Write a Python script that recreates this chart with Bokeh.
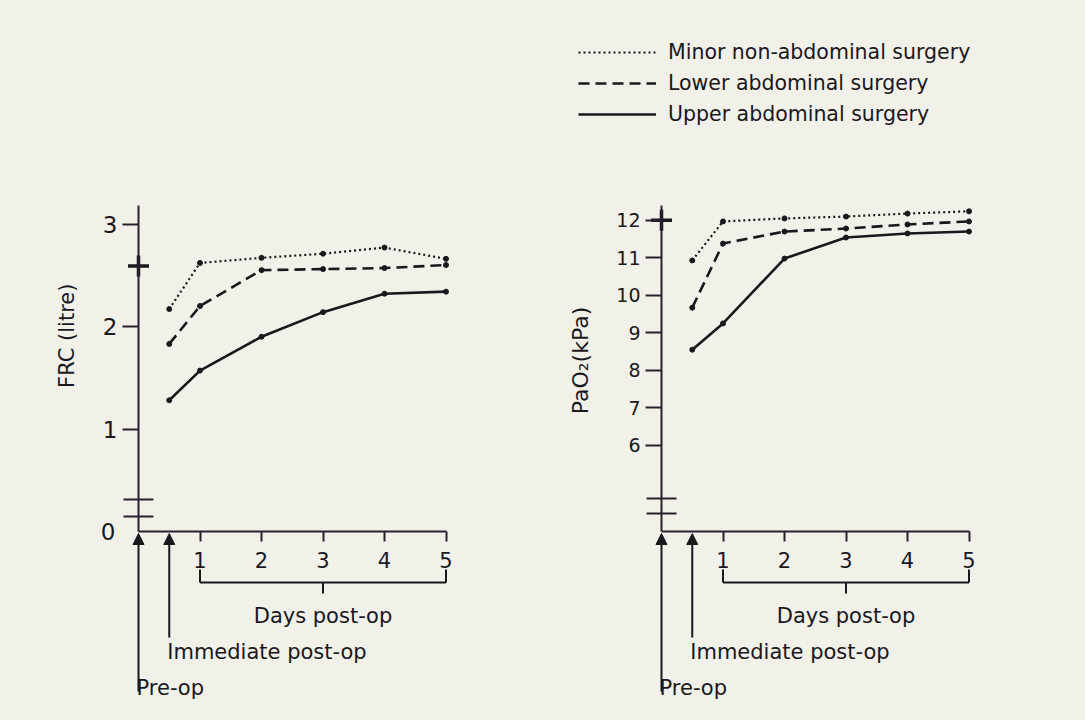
import math
from bokeh.plotting import figure
from bokeh.models import (LinearAxis, FixedTicker, Arrow, NormalHead, Label,
                          Legend, LegendItem, Range1d)
from bokeh.layouts import row
from bokeh.embed import file_html
from bokeh.resources import INLINE

# ---------------- data ----------------
# 0.5 = immediate post-op, 1..5 = days post-op ; pre-op = 0
stages = [0.5, 1, 2, 3, 4, 5]
series_names = ["Minor non-abdominal surgery",
                "Lower abdominal surgery",
                "Upper abdominal surgery"]

frc_minor = [2.17, 2.62, 2.67, 2.71, 2.77, 2.66]
frc_lower = [1.83, 2.20, 2.55, 2.56, 2.57, 2.60]
frc_upper = [1.28, 1.57, 1.90, 2.14, 2.32, 2.34]
frc_preop = 2.59

pao2_minor = [10.93, 11.97, 12.05, 12.10, 12.18, 12.24]
pao2_lower = [9.67, 11.38, 11.70, 11.78, 11.89, 11.97]
pao2_upper = [8.55, 9.25, 10.98, 11.54, 11.65, 11.70]
pao2_preop = 12.0

day_ticks = [1, 2, 3, 4, 5]
frc_ticks = [1, 2, 3]
pao2_ticks = [6, 7, 8, 9, 10, 11, 12]
preop_label = "Pre-op"
immediate_label = "Immediate post-op"
days_label = "Days post-op"
frc_title = "FRC (litre)"
pao2_title = "PaO\u2082(kPa)"

# ---------------- style ----------------
BG = "#f1f0e9"
INK = "#1a181c"
AX = "#2a2130"
FONT = "DejaVu Sans"
H = 720
PX_X = 61.5  # px per day
styles = [dict(line_dash="2 3", line_width=2.2),
          dict(line_dash="11 6", line_width=2.6),
          dict(line_dash="solid", line_width=2.6)]


def make_panel(width, origin_px, v_ref, px_ref, ppu, axis_val, y_top,
               yticks, ytick_size, series, preop, breaks, title, title_pos,
               title_size, zero_label, legend):
    x_start = -origin_px / PX_X
    x_end = x_start + width / PX_X
    y_end = v_ref + px_ref / ppu
    y_start = v_ref - (H - px_ref) / ppu
    p = figure(width=width, height=H, x_range=Range1d(x_start, x_end),
               y_range=Range1d(y_start, y_end), x_axis_type=None,
               y_axis_type=None, toolbar_location=None, output_backend="svg",
               min_border=0, background_fill_color=BG, border_fill_color=BG,
               outline_line_color=None)

    def yoff(px):
        return axis_val - px / ppu

    # y axis
    ya = LinearAxis(fixed_location=0, ticker=FixedTicker(ticks=yticks),
                    bounds=(axis_val, y_top), axis_line_color=AX,
                    axis_line_width=2, major_tick_in=0, major_tick_out=16,
                    major_tick_line_width=2, major_tick_line_color=AX,
                    minor_tick_in=0, minor_tick_out=0,
                    major_label_text_font=FONT,
                    major_label_text_font_size=ytick_size,
                    major_label_text_color=INK, major_label_standoff=5)
    p.add_layout(ya, "left")
    if zero_label:
        za = LinearAxis(fixed_location=0, ticker=FixedTicker(ticks=[0]),
                        axis_line_color=None, major_tick_line_color=None,
                        major_tick_in=0, major_tick_out=16,
                        minor_tick_in=0, minor_tick_out=0,
                        major_label_text_font=FONT,
                        major_label_text_font_size=ytick_size,
                        major_label_text_color=INK, major_label_standoff=7)
        p.add_layout(za, "left")

    # x axis
    xa = LinearAxis(fixed_location=axis_val, ticker=FixedTicker(ticks=day_ticks),
                    bounds=(0, day_ticks[-1]), axis_line_color=AX,
                    axis_line_width=2, major_tick_in=0, major_tick_out=10,
                    major_tick_line_width=2, major_tick_line_color=AX,
                    minor_tick_in=0, minor_tick_out=0,
                    major_label_text_font=FONT,
                    major_label_text_font_size="21px",
                    major_label_text_color=INK, major_label_standoff=10)
    p.add_layout(xa, "below")

    # axis break marks
    hw = 15 / PX_X
    p.segment(x0=[-hw] * len(breaks), y0=breaks, x1=[hw] * len(breaks),
              y1=breaks, line_color=AX, line_width=2)

    # bracket for days post-op
    d0, d1 = day_ticks[0], day_ticks[-1]
    dm = (d0 + d1) / 2
    p.segment(x0=[d0, d0, d1, dm], y0=[yoff(51), yoff(38), yoff(38), yoff(51)],
              x1=[d1, d0, d1, dm], y1=[yoff(51), yoff(51), yoff(51), yoff(62)],
              line_color=INK, line_width=2)

    # arrows
    for xs, ybot in ((0, 160), (stages[0], 106)):
        p.add_layout(Arrow(end=NormalHead(size=11, fill_color=INK,
                                          line_color=INK, line_width=1),
                           x_start=xs, y_start=yoff(ybot), x_end=xs,
                           y_end=yoff(2), line_color=INK, line_width=2))

    # texts below axis
    p.add_layout(Label(x=dm, y=yoff(84), text=days_label, text_align="center",
                       text_baseline="alphabetic", text_font=FONT,
                       text_font_size="21px", text_color=INK))
    p.add_layout(Label(x=stages[0], y=yoff(120), text=immediate_label,
                       text_align="left", text_baseline="alphabetic",
                       text_font=FONT, text_font_size="21px", text_color=INK,
                       x_offset=-2))
    p.add_layout(Label(x=0, y=yoff(156), text=preop_label, text_align="left",
                       text_baseline="alphabetic", text_font=FONT,
                       text_font_size="21px", text_color=INK, x_offset=-2))

    # y title
    p.add_layout(Label(x=title_pos[0], y=title_pos[1], text=title,
                       angle=math.pi / 2, text_align="center",
                       text_baseline="middle", text_font=FONT,
                       text_font_size=title_size, text_color=INK))

    # data
    rends = []
    for vals, st in zip(series, styles):
        r = p.line(stages, vals, line_color=INK, **st)
        p.scatter(stages, vals, size=5, color=INK)
        rends.append(r)
    p.scatter([0], [preop], marker="cross", size=21, line_width=3.5,
              line_color=INK)

    if legend:
        items = [LegendItem(label=n, renderers=[r])
                 for n, r in zip(series_names, rends)]
        lg = Legend(items=items, location="top_left", margin=38, padding=0,
                    spacing=3, glyph_width=78, glyph_height=28,
                    label_height=28, label_standoff=12,
                    label_text_font=FONT, label_text_font_size="20.5px",
                    label_text_color=INK, background_fill_alpha=0,
                    border_line_color=None)
        p.add_layout(lg, "center")
    return p


left = make_panel(width=540, origin_px=138, v_ref=1.5, px_ref=377.25,
                  ppu=102.5, axis_val=0, y_top=3.18, yticks=frc_ticks,
                  ytick_size="23px",
                  series=[frc_minor, frc_lower, frc_upper], preop=frc_preop,
                  breaks=[0.146, 0.312], title=frc_title,
                  title_pos=(-72 / PX_X, 1.91), title_size="21px",
                  zero_label=True, legend=False)

right = make_panel(width=545, origin_px=121, v_ref=9, px_ref=332.3,
                   ppu=37.5, axis_val=3.70, y_top=12.4, yticks=pao2_ticks,
                   ytick_size="19px",
                   series=[pao2_minor, pao2_lower, pao2_upper],
                   preop=pao2_preop, breaks=[4.18, 4.58], title=pao2_title,
                   title_pos=(-81 / PX_X, 8.26), title_size="22px",
                   zero_label=False, legend=True)

layout = row(left, right, spacing=0)
html = file_html(layout, INLINE)
html = html.replace("</head>",
                    "<style>html, body { background-color: %s !important; }</style></head>" % BG, 1)
open("out.html", "w").write(html)
